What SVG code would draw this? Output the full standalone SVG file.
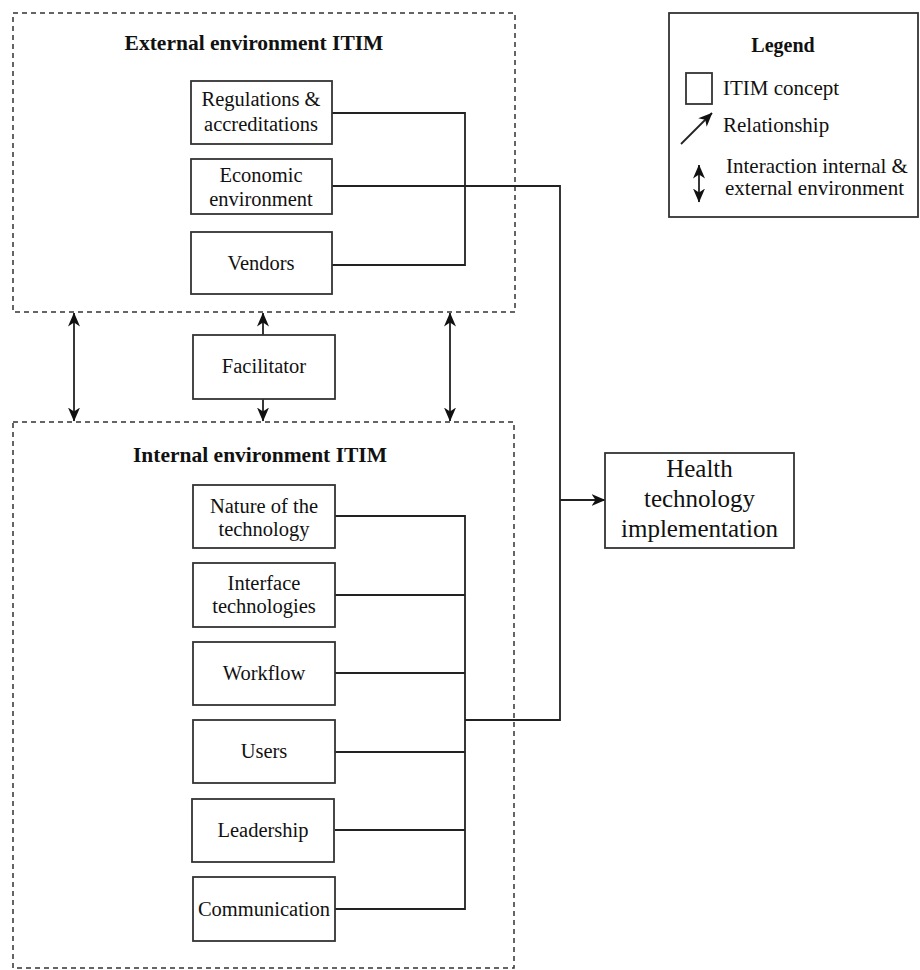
<svg xmlns="http://www.w3.org/2000/svg" width="920" height="970" viewBox="0 0 920 970">
  <style>
    text { font-family: "Liberation Serif", "Times New Roman", serif; fill: #111; }
    .t { font-size: 20.5px; text-anchor: middle; }
    .h { font-size: 21.5px; font-weight: bold; text-anchor: middle; }
    .lg { font-size: 21px; }
    .box { fill: #fff; stroke: #333; stroke-width: 1.8; }
    .env { fill: none; stroke: #333; stroke-width: 1.5; stroke-dasharray: 5 4; }
    .ln { fill: none; stroke: #222; stroke-width: 1.8; }
  </style>
  <defs>
    <marker id="head" viewBox="0 0 14 12" refX="13.5" refY="6" markerWidth="14" markerHeight="12" markerUnits="userSpaceOnUse" orient="auto-start-reverse">
      <path d="M0,0 L14,6 L0,12 L4,6 Z" fill="#111"/>
    </marker>
  </defs>

  <!-- environment frames -->
  <g id="external-environment">
    <rect class="env" x="13" y="13" width="502" height="299"/>
    <text class="h" x="254" y="50">External environment ITIM</text>
  </g>
  <g id="internal-environment">
    <rect class="env" x="13" y="422" width="501" height="546"/>
    <text class="h" x="260" y="462">Internal environment ITIM</text>
  </g>

  <!-- connectors -->
  <g id="connectors">
    <!-- external concepts -->
    <path class="ln" d="M332,113 H465 V265 H332"/>
    <path class="ln" d="M332,186 H560 V720 H465"/>
    <path class="ln" d="M560,500 H605" marker-end="url(#head)"/>
    <!-- internal concepts -->
    <path class="ln" d="M335,516 H465 V909 H335"/>
    <path class="ln" d="M335,595 H465"/>
    <path class="ln" d="M335,673 H465"/>
    <path class="ln" d="M335,752 H465"/>
    <path class="ln" d="M335,830 H465"/>
    <!-- interaction between environments -->
    <path class="ln" d="M74,313 V421" marker-start="url(#head)" marker-end="url(#head)"/>
    <path class="ln" d="M450,313 V421" marker-start="url(#head)" marker-end="url(#head)"/>
    <path class="ln" d="M263,335 V313" marker-end="url(#head)"/>
    <path class="ln" d="M263,399 V421" marker-end="url(#head)"/>
  </g>

  <!-- external concepts -->
  <g id="regulations">
    <rect class="box" x="191" y="81" width="141" height="63"/>
    <text class="t" x="261" y="106">Regulations &amp;</text>
    <text class="t" x="261" y="131">accreditations</text>
  </g>
  <g id="economic">
    <rect class="box" x="191" y="159" width="141" height="55"/>
    <text class="t" x="261" y="182">Economic</text>
    <text class="t" x="261" y="206">environment</text>
  </g>
  <g id="vendors">
    <rect class="box" x="191" y="232" width="141" height="62"/>
    <text class="t" x="261" y="270">Vendors</text>
  </g>

  <g id="facilitator">
    <rect class="box" x="193" y="335" width="142" height="64"/>
    <text class="t" x="264" y="373">Facilitator</text>
  </g>

  <!-- internal concepts -->
  <g id="nature">
    <rect class="box" x="193" y="485" width="142" height="63"/>
    <text class="t" x="264" y="513">Nature of the</text>
    <text class="t" x="264" y="536">technology</text>
  </g>
  <g id="interface">
    <rect class="box" x="193" y="563" width="142" height="64"/>
    <text class="t" x="264" y="590">Interface</text>
    <text class="t" x="264" y="613">technologies</text>
  </g>
  <g id="workflow">
    <rect class="box" x="193" y="642" width="142" height="63"/>
    <text class="t" x="264" y="680">Workflow</text>
  </g>
  <g id="users">
    <rect class="box" x="193" y="720" width="142" height="63"/>
    <text class="t" x="264" y="758">Users</text>
  </g>
  <g id="leadership">
    <rect class="box" x="192" y="799" width="142" height="63"/>
    <text class="t" x="263" y="837">Leadership</text>
  </g>
  <g id="communication">
    <rect class="box" x="193" y="877" width="142" height="64"/>
    <text class="t" x="264" y="916">Communication</text>
  </g>

  <!-- outcome -->
  <g id="health-technology-implementation">
    <rect class="box" x="605" y="453" width="189" height="95"/>
    <text class="t" x="699.5" y="477" style="font-size:25px">Health</text>
    <text class="t" x="699.5" y="507" style="font-size:25px">technology</text>
    <text class="t" x="699.5" y="537" style="font-size:25px">implementation</text>
  </g>

  <!-- legend -->
  <g id="legend">
    <rect class="box" x="669" y="13" width="249" height="204"/>
    <text x="783" y="52" style="font-size:20px;font-weight:bold;text-anchor:middle">Legend</text>
    <rect class="box" x="686" y="73" width="26" height="31"/>
    <text class="lg" x="723" y="95">ITIM concept</text>
    <path class="ln" d="M681,144 L712,113" marker-end="url(#head)"/>
    <text class="lg" x="723" y="132">Relationship</text>
    <path class="ln" d="M699,165 V202" marker-start="url(#head)" marker-end="url(#head)"/>
    <text class="lg" x="726" y="173">Interaction internal &amp;</text>
    <text class="lg" x="725" y="195">external environment</text>
  </g>
</svg>
